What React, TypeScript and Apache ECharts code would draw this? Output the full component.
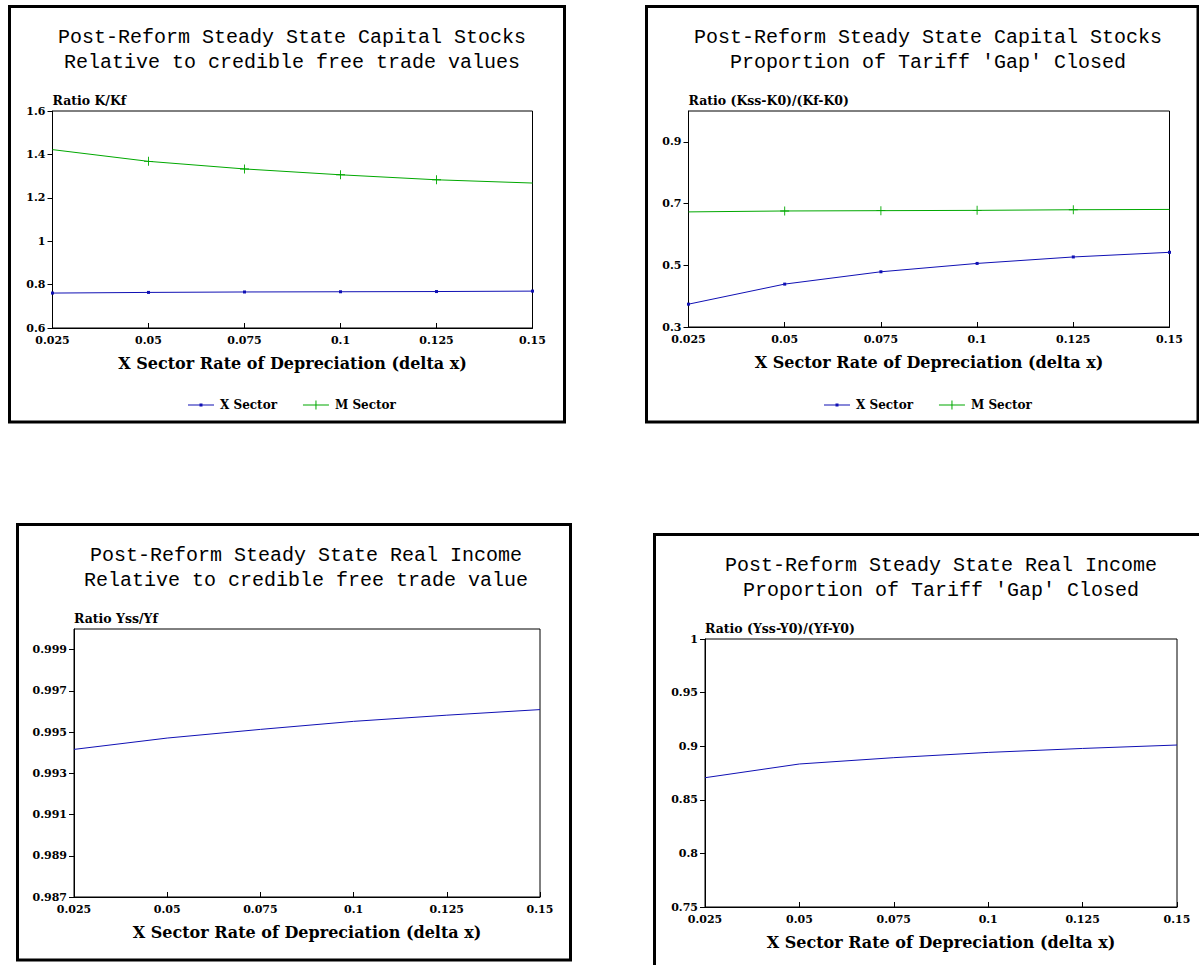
import React, { useEffect, useRef } from "react";
import * as echarts from "echarts";

// ---- data ----
const depreciation = [0.025, 0.05, 0.075, 0.1, 0.125, 0.15];
const capitalRelX = [0.761, 0.764, 0.766, 0.767, 0.768, 0.77];
const capitalRelM = [1.422, 1.368, 1.333, 1.306, 1.283, 1.268];
const capitalGapX = [0.374, 0.439, 0.479, 0.506, 0.527, 0.542];
const capitalGapM = [0.673, 0.676, 0.677, 0.678, 0.68, 0.681];
const incomeRel = [0.99416, 0.99471, 0.99513, 0.99552, 0.99582, 0.99609];
const incomeGap = [0.8706, 0.8834, 0.8893, 0.8942, 0.8979, 0.9011];

const seriesNames = ["X Sector", "M Sector"];
const xAxisTitle = "X Sector Rate of Depreciation (delta x)";
const panelTitles = [
  ["Post-Reform Steady State Capital Stocks", "Relative to credible free trade values"],
  ["Post-Reform Steady State Capital Stocks", "Proportion of Tariff 'Gap' Closed"],
  ["Post-Reform Steady State Real Income", "Relative to credible free trade value"],
  ["Post-Reform Steady State Real Income", "Proportion of Tariff 'Gap' Closed"],
];
const yAxisTitles = ["Ratio K/Kf", "Ratio (Kss-K0)/(Kf-K0)", "Ratio Yss/Yf", "Ratio (Yss-Y0)/(Yf-Y0)"];
const yRanges = [
  { min: 0.6, max: 1.6, interval: 0.2 },
  { min: 0.3, max: 1.0, interval: 0.2 },
  { min: 0.987, max: 1.0, interval: 0.002 },
  { min: 0.75, max: 1.0, interval: 0.05 },
];

const SERIF = "DejaVu Serif";
const MONO = "Liberation Mono";
const BLUE = "#1010b4";
const GREEN = "#00a800";
const PLUS = "path://M4.5,0H5.5V4.5H10V5.5H5.5V10H4.5V5.5H0V4.5H4.5Z";
const ICON_X = "path://M0,4.5H26V5.5H0Z M11.5,3.5H14.5V6.5H11.5Z M0,0H0.01V0.01H0Z M25.99,9.99H26V10H25.99Z";
const ICON_M = "path://M0,4.5H26V5.5H0Z M12.5,0.5H13.5V9.5H12.5Z M0,0H0.01V0.01H0Z M25.99,9.99H26V10H25.99Z";

const grids = [
  { left: 52.5, top: 111, width: 480, height: 217 },
  { left: 688.5, top: 111, width: 481, height: 216 },
  { left: 74, top: 629, width: 466, height: 268 },
  { left: 705, top: 639, width: 472, height: 268 },
];
const borders = [
  { x: 9.5, y: 6.5, w: 555, h: 415.5 },
  { x: 646.5, y: 6.5, w: 551.5, h: 415.5 },
  { x: 17.5, y: 524.5, w: 553, h: 435.5 },
  { x: 654.5, y: 534.5, w: 560, h: 450 },
];
const titlePos = [
  { x: 292, y: 37 },
  { x: 928, y: 37 },
  { x: 306, y: 555 },
  { x: 941, y: 565 },
];

function pts(ys: number[]) {
  return depreciation.map((x, i) => [x, ys[i]]);
}

export default function App() {
  const ref = useRef<HTMLDivElement>(null);
  useEffect(() => {
    if (!ref.current) return;
    const chart = echarts.init(ref.current, null, { renderer: "svg" });

    const xAxes = grids.map((_, i) => ({
      type: "value",
      gridIndex: i,
      min: 0.025,
      max: 0.15,
      interval: 0.025,
      name: xAxisTitle,
      nameLocation: "middle",
      nameGap: 35,
      nameTextStyle: { fontFamily: SERIF, fontWeight: "bold", fontSize: 16, color: "#000", verticalAlign: "middle" },
      axisLine: { show: true, lineStyle: { color: "#000", width: 1 } },
      axisTick: { show: true, inside: true, length: 5, lineStyle: { color: "#000" } },
      axisLabel: { fontFamily: SERIF, fontWeight: "bold", fontSize: 11, color: "#000", margin: 7, lineHeight: 11 },
      splitLine: { show: false },
    }));
    const yAxes = grids.map((_, i) => ({
      type: "value",
      gridIndex: i,
      min: yRanges[i].min,
      max: yRanges[i].max,
      interval: yRanges[i].interval,
      name: yAxisTitles[i],
      nameLocation: "end",
      nameGap: 11,
      nameTextStyle: { fontFamily: SERIF, fontWeight: "bold", fontSize: 12.5, color: "#000", align: "left", verticalAlign: "middle" },
      axisLine: { show: true, lineStyle: { color: "#000", width: 1 } },
      axisTick: { show: true, inside: false, length: 5, lineStyle: { color: "#000" } },
      axisLabel: {
        fontFamily: SERIF,
        fontWeight: "bold",
        fontSize: 11,
        lineHeight: 11,
        color: "#000",
        margin: 7,
        showMaxLabel: i === 0 || i === 3,
      },
      splitLine: { show: false },
    }));

    const midOnly = (_v: any, p: any) => (p.dataIndex > 0 && p.dataIndex < depreciation.length - 1 ? 9 : 0);

    const option: any = {
      animation: false,
      backgroundColor: "#fff",
      textStyle: { fontFamily: SERIF },
      grid: grids.map((g) => ({ ...g, show: true, borderColor: "#000", borderWidth: 1, backgroundColor: "transparent", containLabel: false })),
      xAxis: xAxes,
      yAxis: yAxes,
      legend: [
        { left: 183, top: 394 },
        { left: 819, top: 394 },
      ].map((l) => ({
        ...l,
        data: [
          { name: seriesNames[0], icon: ICON_X },
          { name: seriesNames[1], icon: ICON_M },
        ],
        itemWidth: 26,
        itemHeight: 10,
        itemGap: 26,
        itemStyle: { borderWidth: 0 },
        lineStyle: { width: 0 },
        textStyle: { fontFamily: SERIF, fontWeight: "bold", fontSize: 12, color: "#000", padding: [0, 0, 0, 1] },
      })),
      series: [
        {
          name: seriesNames[0], type: "line", xAxisIndex: 0, yAxisIndex: 0, data: pts(capitalRelX),
          symbol: "rect", symbolSize: 3, lineStyle: { color: BLUE, width: 1 }, itemStyle: { color: BLUE },
        },
        {
          name: seriesNames[1], type: "line", xAxisIndex: 0, yAxisIndex: 0, data: pts(capitalRelM),
          symbol: PLUS, symbolSize: midOnly, lineStyle: { color: GREEN, width: 1 }, itemStyle: { color: GREEN },
        },
        {
          name: seriesNames[0], type: "line", xAxisIndex: 1, yAxisIndex: 1, data: pts(capitalGapX),
          symbol: "rect", symbolSize: 3, lineStyle: { color: BLUE, width: 1 }, itemStyle: { color: BLUE },
        },
        {
          name: seriesNames[1], type: "line", xAxisIndex: 1, yAxisIndex: 1, data: pts(capitalGapM),
          symbol: PLUS, symbolSize: midOnly, lineStyle: { color: GREEN, width: 1 }, itemStyle: { color: GREEN },
        },
        {
          name: "Real Income", type: "line", xAxisIndex: 2, yAxisIndex: 2, data: pts(incomeRel),
          showSymbol: false, symbol: "none", lineStyle: { color: BLUE, width: 1 },
        },
        {
          name: "Real Income Gap", type: "line", xAxisIndex: 3, yAxisIndex: 3, data: pts(incomeGap),
          showSymbol: false, symbol: "none", lineStyle: { color: BLUE, width: 1 },
        },
      ],
      graphic: [
        ...borders.map((b) => ({
          type: "rect",
          shape: { x: b.x, y: b.y, width: b.w, height: b.h },
          style: { fill: "none", stroke: "#000", lineWidth: 3 },
          silent: true,
        })),
        ...titlePos.flatMap((p, i) =>
          panelTitles[i].map((t, j) => ({
            type: "text",
            x: p.x,
            y: p.y + j * 25.5,
            style: {
              text: t,
              font: `20px "${MONO}"`,
              fill: "#000",
              textAlign: "center",
              textVerticalAlign: "middle",
            },
            silent: true,
          }))
        ),
      ],
    };
    chart.setOption(option);
    return () => chart.dispose();
  }, []);
  return (
    <div
      ref={ref}
      style={{ position: "fixed", left: 0, top: 0, width: 1199, height: 965, background: "#fff" }}
    />
  );
}
